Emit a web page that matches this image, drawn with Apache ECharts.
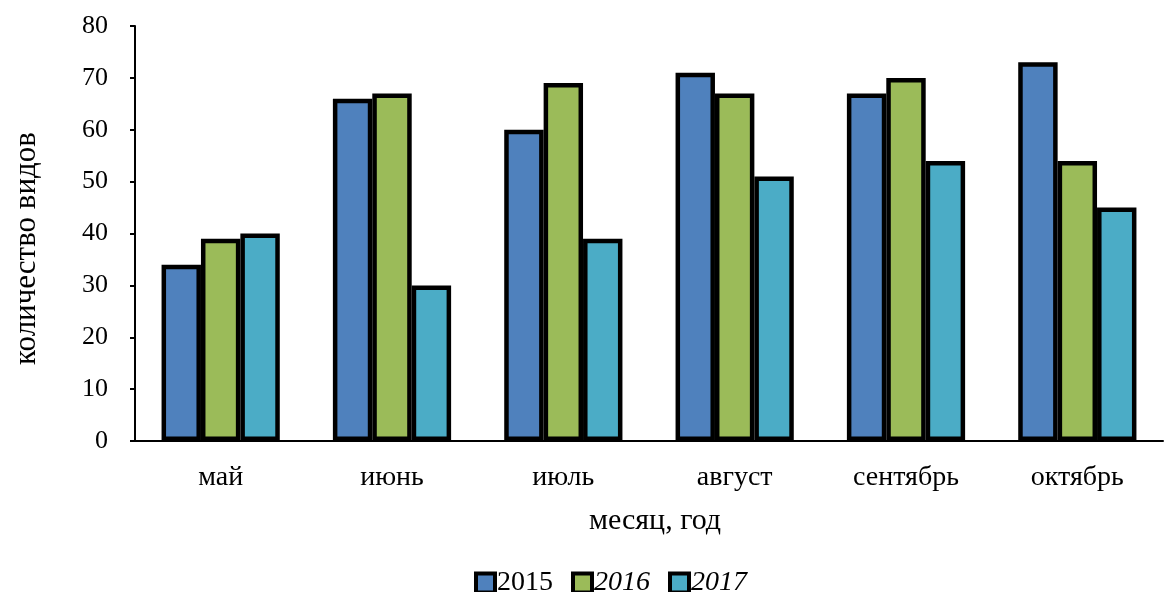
<!DOCTYPE html>
<html><head><meta charset="utf-8">
<script src="https://cdn.jsdelivr.net/npm/echarts@6/dist/echarts.min.js"></script>
<style>html,body{margin:0;padding:0;background:#fff}#c{width:1167px;height:592px}</style>
</head><body><div id="c"></div>
<script>
const categories = ['май', 'июнь', 'июль', 'август', 'сентябрь', 'октябрь'];
const seriesNames = ['2015', '2016', '2017'];
const s2015 = [34, 66, 60, 71, 67, 73];
const s2016 = [39, 67, 69, 67, 70, 54];
const s2017 = [40, 30, 39, 51, 54, 45];
const yTicks = [0, 10, 20, 30, 40, 50, 60, 70, 80];

const colors = ['#4F81BD', '#9BBB59', '#4BACC6'];
const font = 'Liberation Serif, Times New Roman, serif';
const data = [s2015, s2016, s2017];
const chart = echarts.init(document.getElementById('c'));
chart.setOption({
  animation: false,
  textStyle: { fontFamily: font, color: '#000' },
  grid: { left: 135, right: 4, top: 26, bottom: 151 },
  legend: {
    top: 564, left: 469,
    itemWidth: 19, itemHeight: 19, itemGap: 18,
    icon: 'rect',
    itemStyle: { borderColor: '#000', borderWidth: 4 },
    data: seriesNames,
    formatter: function (n) { return n === '2015' ? '{n|' + n + '}' : '{i|' + n + '}'; },
    textStyle: {
      fontFamily: font, fontSize: 28, color: '#000', padding: [0,0,0,-3],
      rich: {
        n: { fontFamily: font, fontSize: 28, color: '#000' },
        i: { fontFamily: font, fontSize: 28, color: '#000', fontStyle: 'italic' }
      }
    }
  },
  xAxis: {
    type: 'category', data: categories,
    name: 'месяц, год', nameLocation: 'middle', nameGap: 80,
    nameTextStyle: { fontFamily: font, fontSize: 30, color: '#000', verticalAlign: 'middle', padding: [0, 0, 0, 12] },
    axisLine: { lineStyle: { color: '#000', width: 2 } },
    axisTick: { show: false },
    axisLabel: { fontFamily: font, fontSize: 28, color: '#000', margin: 23 }
  },
  yAxis: {
    type: 'value', min: 0, max: 80, interval: 10,
    name: 'количество видов', nameLocation: 'middle', nameGap: 108, nameRotate: 90,
    nameTextStyle: { fontFamily: font, fontSize: 31, color: '#000', verticalAlign: 'middle', padding: [0, 30, 0, 0] },
    axisLine: { show: true, lineStyle: { color: '#000', width: 2 } },
    axisTick: { show: true, length: 5, lineStyle: { color: '#000', width: 2 } },
    splitLine: { show: false },
    axisLabel: { fontFamily: font, fontSize: 26, color: '#000', margin: 27,
      formatter: function (v) { return yTicks.indexOf(v) >= 0 ? String(v) : ''; } }
  },
  series: seriesNames.map(function (n, i) {
    return {
      name: n, type: 'bar', data: data[i],
      barGap: '0%', barCategoryGap: '31%',
      itemStyle: { color: colors[i], borderColor: '#000', borderWidth: 4.5 }
    };
  })
});
</script></body></html>
